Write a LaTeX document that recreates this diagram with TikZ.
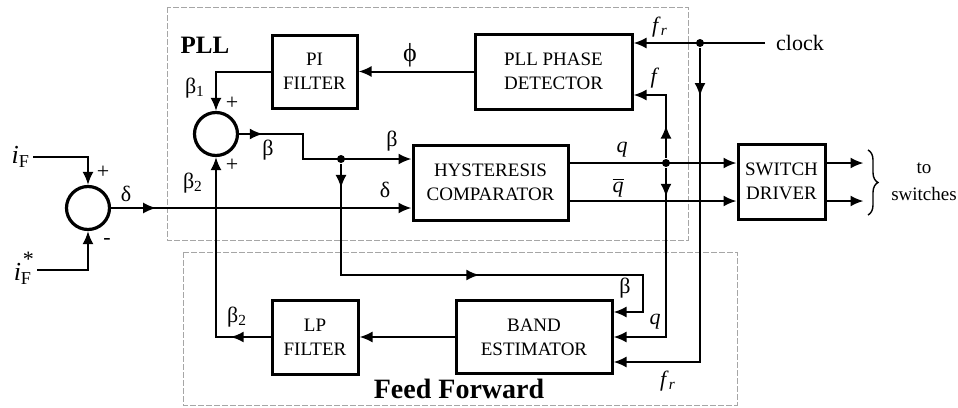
\documentclass[tikz,border=0pt]{standalone}
\usepackage{fontspec}
\setmainfont{Liberation Serif}
\usetikzlibrary{arrows.meta, positioning, decorations.markings, decorations.pathreplacing}

\begin{document}
\begin{tikzpicture}[
      x=0.5pt, y=-0.5pt,
      >={Latex[length=6.5pt,width=5.5pt]},
      line width=1pt,
      block/.style={
        rectangle, draw, line width=1.5pt, align=center, inner sep=1pt,
        font=\fontsize{9.5}{12}\selectfont
      },
      sumnode/.style={circle, draw, line width=1.6pt, minimum size=21.5pt, inner sep=0pt},
      lbl/.style={inner sep=1pt, font=\fontsize{11}{12}\selectfont},
      title/.style={inner sep=0pt, font=\fontsize{12.5}{14}\selectfont\bfseries},
      frame/.style={draw=gray!70, line width=0.5pt, dash pattern=on 3pt off 1pt},
      jdot/.style={circle, fill, inner sep=0pt, minimum size=4pt},
      marr/.style={postaction={decorate, decoration={markings,
          mark=at position #1 with {\arrow{>}}}}}
    ]
    \useasboundingbox (0,0) rectangle (958,407);
    \draw[frame] (167,7) rectangle (688,240);
    \draw[frame] (183,252) rectangle (737,405);
    \node[title] (plltitle) at (205,45) {PLL};
    \node[title, font=\fontsize{14}{16}\selectfont\bfseries] (fftitle) at (459,389) {Feed Forward};

    \node[block, minimum width=42.5pt, minimum height=36.5pt] (pif)  at (314.5,71.5) {PI\\FILTER};
    \node[block, minimum width=78.5pt, minimum height=37.5pt] (pdet) at (553.5,71.5) {PLL PHASE\\DETECTOR};
    \node[block, minimum width=77.5pt, minimum height=37.5pt] (hyst) at (490.5,182.5) {HYSTERESIS\\COMPARATOR};
    \node[block, minimum width=43.5pt, minimum height=37.5pt] (swd)  at (781.5,181.5) {SWITCH\\DRIVER};
    \node[block, minimum width=43pt, minimum height=37pt]     (lpf)  at (315,337) {LP\\FILTER};
    \node[block, minimum width=78pt, minimum height=36.5pt]   (band) at (534,337) {BAND\\ESTIMATOR};
    \node[sumnode] (sum1) at (88,208) {};
    \node[sumnode] (sum2) at (216,134) {};

    \node[lbl, anchor=east, font=\fontsize{13}{14}\selectfont] (iF)  at (33,157) {\textit{i}\textsubscript{F}};
    \node[lbl, anchor=east, font=\fontsize{13}{14}\selectfont] (iFs) at (37,268) {\textit{i}\textsubscript{F}\kern-0.35em\raisebox{1.2ex}{\fontsize{11}{12}\selectfont *}};
    \node[lbl] (clock) at (800,43) {clock};
    \node[jdot] (jc) at (700,43) {};
    \node[jdot] (jb) at (341,159) {};
    \node[jdot] (jq) at (666,163) {};
    \coordinate (qb) at ([yshift=-9.25pt]hyst.east);
    \coordinate (pf) at ([yshift=-11.75pt]pdet.east);
    \coordinate (bb) at ([yshift=12.5pt]band.east);
    \coordinate (bfr) at ([yshift=-12.5pt]band.east);
    \coordinate (bturn) at (643,275);

    \draw[->] (iF.east) -| (sum1.north);
    \draw[->] ([yshift=-1pt]iFs.east) -| (sum1.south);
    \draw[->, marr=0.15] (sum1.east) -- (sum1.east -| hyst.west);
    \draw[->] (pif.west) -| (sum2.north);
    \draw[->, marr=0.12] (sum2.east) -- ++(64,0) |- (hyst.west |- jb);
    \draw[->, marr=0.05, marr=0.52] (jb) |- (bturn) |- (bb);
    \draw[->] (pdet.west) -- (pif.east);
    \draw[->] ([xshift=-4pt]clock.west) -- (pdet.east |- jc);
    \draw[->, marr=0.12] (jc) |- (bfr);
    \draw[->] (hyst.east |- jq) -- (swd.west |- jq);
    \draw[->] (qb) -- (qb -| swd.west);
    \draw[->, marr=0.34] (jq) |- (pf);
    \draw[->, marr=0.13] (jq) |- (band.east);
    \draw[->] (band.west) -- (lpf.east);
    \draw[->, marr=0.17] (lpf.west) -| (sum2.south);
    \foreach \o in {jq, qb}
      \draw[->] (swd.east |- \o) -- ++(37,0);
    \draw[decorate, decoration={brace, amplitude=5pt}, line width=0.7pt] (868,150) -- (868,215);
    \node[lbl, align=center, font=\fontsize{9.5}{13.5}\selectfont] (toswitch) at (924,182) {to\\switches};

    \node[lbl, font=\fontsize{13}{14}\selectfont] (lphi) at (410,55) {ϕ};
    \node[lbl] (lb1) at (195,88) {β\textsubscript{1}};
    \node[lbl] (lb2) at (193,183) {β\textsubscript{2}};
    \node[lbl] (lp1) at (232,103) {+};
    \node[lbl] (lp2) at (232,165) {+};
    \node[lbl] (lp3) at (103,172) {+};
    \node[lbl] (lm1) at (107,241) {-};
    \node[lbl] (lbs) at (268,150) {β};
    \node[lbl] (lbh) at (392,141) {β};
    \node[lbl] (ldh) at (385,190) {δ};
    \node[lbl] (lds) at (126,194) {δ};
    \node[lbl] (lfr) at (660,27) {\textit{f}\textsubscript{\textit{r}}};
    \node[lbl] (lf) at (655,78) {\textit{f}};
    \node[lbl] (lq) at (622,150) {\textit{q}};
    \node[lbl] (lqb) at (618,188) {$\overline{\textit{q}}$};
    \node[lbl] (lbb) at (625,288) {β};
    \node[lbl] (lqe) at (655,322) {\textit{q}};
    \node[lbl] (lfre) at (668,381) {\textit{f}\textsubscript{\textit{r}}};
    \node[lbl] (lb2l) at (237,317) {β\textsubscript{2}};
  \end{tikzpicture}
\end{document}
